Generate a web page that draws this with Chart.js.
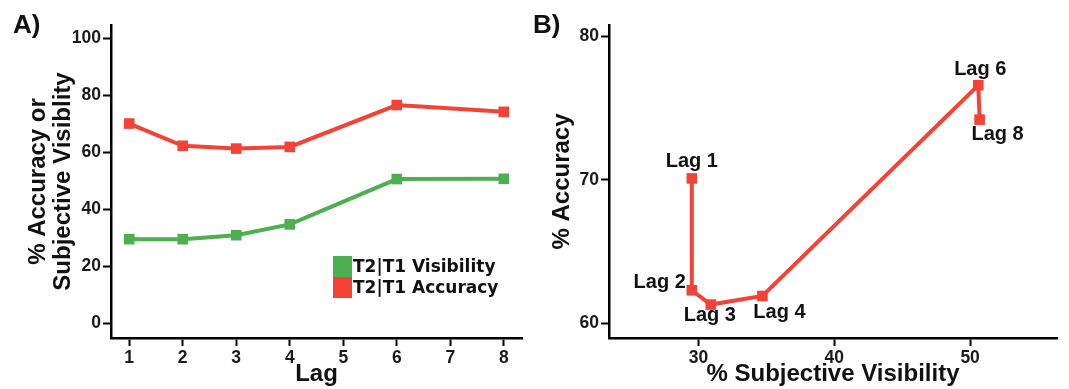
<!DOCTYPE html>
<html>
<head>
<meta charset="utf-8">
<script src="https://cdn.jsdelivr.net/npm/chart.js@4/dist/chart.umd.min.js"></script>
<style>
  html, body { margin: 0; padding: 0; background: #fff; }
  .wrap { position: relative; width: 1069px; height: 389px; }
  #chartA { position: absolute; left: 0; top: 0; }
  #chartB { position: absolute; left: 540px; top: 0; }
  .panel {
    position: absolute;
    font: bold 26px "Liberation Sans", Arial, sans-serif;
    line-height: 26px;
    color: #111;
  }
</style>
</head>
<body>
<div class="wrap">
  <canvas id="chartA" width="540" height="389"></canvas>
  <canvas id="chartB" width="529" height="389"></canvas>
  <div class="panel" style="left:13px; top:11px;">A)</div>
  <div class="panel" style="left:533px; top:11px;">B)</div>
</div>
<script>
const lags = [1, 2, 3, 4, 6, 8];
const lagLabels = ['Lag 1', 'Lag 2', 'Lag 3', 'Lag 4', 'Lag 6', 'Lag 8'];
const visibility = [29.5, 29.5, 30.9, 34.7, 50.6, 50.7];
const accuracy = [70.1, 62.3, 61.3, 61.9, 76.6, 74.2];

const lagTicks = [1, 2, 3, 4, 5, 6, 7, 8];
const percentTicks = [0, 20, 40, 60, 80, 100];
const visTicks = [30, 40, 50];
const accTicks = [60, 70, 80];

const RED = '#f44336';
const GREEN = '#4caf50';
const FONT = '"Liberation Sans", Arial, sans-serif';

const tickFont = { family: FONT, size: 17.5, weight: 'bold' };
const titleFont = { family: FONT, size: 24, weight: 'bold', lineHeight: 1.04 };

function axis(min, max, tickValues, fixedSize, isY, title, titlePad) {
    return {
        type: 'linear',
        min: min,
        max: max,
        afterBuildTicks: (scale) => { scale.ticks = tickValues.map((v) => ({ value: v })); },
        afterFit: (scale) => {
            if (isY) scale.width = fixedSize; else scale.height = fixedSize;
        },
        border: { display: true, color: '#000', width: 2.5 },
        grid: { drawOnChartArea: false, drawTicks: true, tickLength: 8, color: '#000', tickWidth: 2 },
        ticks: { color: '#1a1a1a', font: tickFont, padding: 2, autoSkip: false },
        title: { display: true, text: title, color: '#111', font: titleFont, padding: titlePad },
    };
}

// legend drawn inside the plot area of panel A
const insideLegend = {
    id: 'insideLegend',
    afterDraw(chart) {
        const ctx = chart.ctx;
        const x0 = 333, y0 = 256, w = 19, h = 21;
        ctx.save();
        ctx.font = 'bold 17px "DejaVu Sans", sans-serif';
        ctx.textBaseline = 'middle';
        chart.data.datasets.forEach((ds, i) => {
            ctx.fillStyle = ds.borderColor;
            ctx.fillRect(x0, y0 + i * h, w, h);
            ctx.fillStyle = '#111';
            ctx.fillText(ds.label, x0 + w + 1, y0 + i * h + h / 2 + 1);
        });
        ctx.restore();
    },
};

// where each "Lag n" label sits relative to its point in panel B
const labelPlace = {
    'Lag 1': { dx: 0, dy: -17, align: 'center' },
    'Lag 2': { dx: -6, dy: -8, align: 'right' },
    'Lag 3': { dx: -1, dy: 11, align: 'center' },
    'Lag 4': { dx: 17, dy: 16, align: 'center' },
    'Lag 6': { dx: 2, dy: -16, align: 'center' },
    'Lag 8': { dx: 18, dy: 15, align: 'center' },
};

const pointLabels = {
    id: 'pointLabels',
    afterDatasetsDraw(chart) {
        const ctx = chart.ctx;
        const meta = chart.getDatasetMeta(0);
        ctx.save();
        ctx.font = 'bold 20px ' + FONT;
        ctx.fillStyle = '#111';
        ctx.textBaseline = 'middle';
        meta.data.forEach((pt, i) => {
            const name = lagLabels[i];
            const p = labelPlace[name];
            ctx.textAlign = p.align;
            ctx.fillText(name, pt.x + p.dx, pt.y + p.dy);
        });
        ctx.restore();
    },
};

const lineStyle = (color) => ({
    borderColor: color,
    backgroundColor: color,
    borderWidth: 4,
    pointStyle: 'rect',
    pointRadius: 7.5,
    pointBorderWidth: 0,
    tension: 0,
});

new Chart(document.getElementById('chartA'), {
    type: 'line',
    data: {
        datasets: [
            { label: 'T2|T1 Visibility', data: lags.map((l, i) => ({ x: l, y: visibility[i] })), ...lineStyle(GREEN) },
            { label: 'T2|T1 Accuracy', data: lags.map((l, i) => ({ x: l, y: accuracy[i] })), ...lineStyle(RED) },
        ],
    },
    options: {
        responsive: false,
        animation: false,
        layout: { padding: { top: 25, right: 18, left: 0, bottom: 0 } },
        scales: {
            x: axis(0.66, 8.34, lagTicks, 51, false, 'Lag', { top: 0, bottom: 2 }),
            y: axis(-5.2, 104.7, percentTicks, 111, true, ['% Accuracy or', 'Subjective Visiblity'], { top: 26, bottom: 0 }),
        },
        plugins: { legend: { display: false }, tooltip: { enabled: false } },
    },
    plugins: [insideLegend],
});

new Chart(document.getElementById('chartB'), {
    type: 'scatter',
    data: {
        datasets: [
            {
                label: 'Accuracy vs Visibility',
                data: visibility.map((v, i) => ({ x: v, y: accuracy[i] })),
                showLine: true,
                ...lineStyle(RED),
            },
        ],
    },
    options: {
        responsive: false,
        animation: false,
        layout: { padding: { top: 25, right: 12, left: 0, bottom: 0 } },
        scales: {
            x: axis(23.4, 56.4, visTicks, 51, false, '% Subjective Visibility', { top: 0, bottom: 2 }),
            y: axis(58.97, 80.8, accTicks, 69, true, '% Accuracy', { top: 10, bottom: 0 }),
        },
        plugins: { legend: { display: false }, tooltip: { enabled: false } },
    },
    plugins: [pointLabels],
});
</script>
</body>
</html>
